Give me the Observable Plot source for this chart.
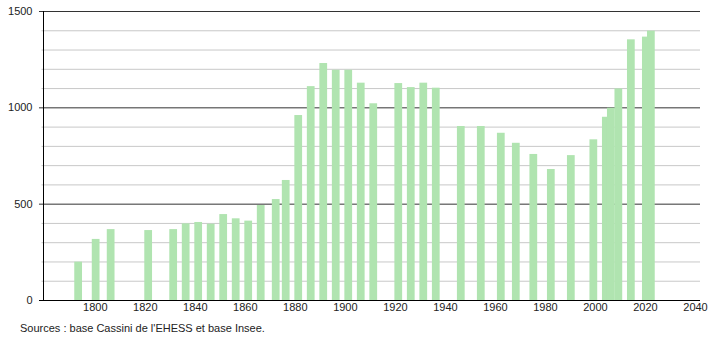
<!DOCTYPE html>
<html>
<head>
<meta charset="utf-8">
<script src="https://cdn.jsdelivr.net/npm/d3@7"></script>
<script src="https://cdn.jsdelivr.net/npm/@observablehq/plot@0.6"></script>
<style>
  html, body { margin: 0; padding: 0; background: #fff; }
  #wrap { position: relative; width: 710px; height: 340px; font-family: "Liberation Sans", Arial, sans-serif; }
  #caption { position: absolute; left: 20px; top: 322px; font-size: 11px; color: #222; white-space: nowrap; }
</style>
</head>
<body>
<div id="wrap">
  <div id="chart"></div>
  <div id="caption">Sources : base Cassini de l'EHESS et base Insee.</div>
</div>
<script>
const years = [1793,1800,1806,1821,1831,1836,1841,1846,1851,1856,1861,1866,1872,1876,1881,1886,1891,1896,1901,1906,1911,1921,1926,1931,1936,1946,1954,1962,1968,1975,1982,1990,1999,2004,2006,2009,2014,2020,2022];
const population = [199,317,368,363,368,398,405,396,446,424,412,493,524,623,960,1110,1230,1195,1195,1128,1021,1126,1105,1128,1102,903,903,868,816,758,680,752,834,951,998,1098,1353,1367,1398];
const xTicks = [1800,1820,1840,1860,1880,1900,1920,1940,1960,1980,2000,2020,2040];
const yMajor = [500,1000,1500];
const yMinor = [100,200,300,400,600,700,800,900,1100,1200,1300,1400];
const yLabels = [0,500,1000,1500];

const data = years.map((y, i) => ({year: y, pop: population[i]}));
const X0 = 1779.3, X1 = 2042;

const chart = Plot.plot({
  width: 710,
  height: 316,
  marginLeft: 43,
  marginRight: 10,
  marginTop: 11,
  marginBottom: 16,
  style: {fontFamily: '"Liberation Sans", Arial, sans-serif', fontSize: "11px", color: "#222", background: "#fff", overflow: "visible"},
  x: {domain: [X0, X1], axis: null},
  y: {domain: [0, 1500], axis: null},
  marks: [
    Plot.ruleY(yMinor, {x1: X0 - 0.6, x2: X1, stroke: "#c8c8c8", strokeWidth: 1}),
    Plot.ruleY(yMajor, {x1: X0 - 1.6, x2: X1, stroke: "#333", strokeWidth: 1}),
    Plot.rectY(data, {x1: d => d.year - 1.2, x2: d => d.year + 1.9, y: "pop", fill: "#b0e4b0"}),
    Plot.ruleY([0], {x1: X0 - 1.6, x2: X1, stroke: "#000", strokeWidth: 1}),
    Plot.ruleX([X0], {y1: 0, y2: 1500, stroke: "#000", strokeWidth: 1}),
    Plot.axisY(yLabels, {tickSize: 0, tickPadding: 11, fill: "#222", tickFormat: d => String(d), label: null}),
    Plot.axisX(xTicks, {tickSize: 0, tickPadding: 3, fill: "#222", tickFormat: d => String(d), label: null})
  ]
});
document.getElementById("chart").appendChild(chart);
</script>
</body>
</html>
